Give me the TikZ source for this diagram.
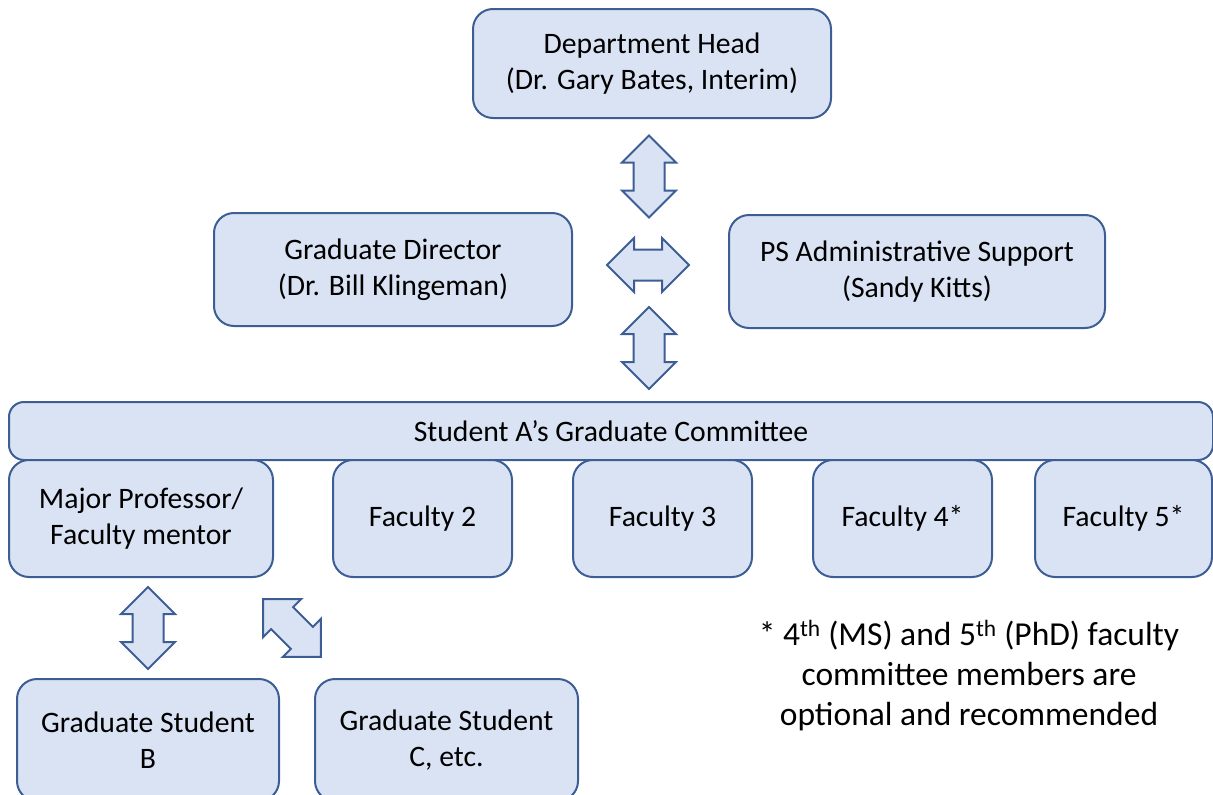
\documentclass[tikz,border=0pt]{standalone}
\usepackage{fontspec}
\setmainfont{Carlito}
\usetikzlibrary{shapes.arrows}
\definecolor{boxfill}{HTML}{DAE3F3}
\definecolor{boxline}{HTML}{3D5E95}

\tikzset{
  box/.style={draw=boxline, fill=boxfill, line width=2pt, rounded corners=20pt,
    align=center, inner sep=0pt, font=\fontsize{29.7}{36}\selectfont},
  fatarrow/.style={shape=double arrow, draw=boxline, fill=boxfill, line width=2pt,
    inner xsep=0pt, inner ysep=14.5pt, double arrow head extend=11.5pt, minimum height=82pt}
}

\begin{document}
\begin{tikzpicture}[x=1pt,y=-1pt]
\useasboundingbox (0,0) rectangle (1213,795);

% top of the chart
\node[box, minimum width=358, minimum height=109] (head) at (652,63.5)
  {Department Head\\(Dr. Gary Bates, Interim)};
\node[box, minimum width=358, minimum height=113] (director) at (393,269.5)
  {Graduate Director\\(Dr. Bill Klingeman)};
\node[box, minimum width=376, minimum height=113] (support) at (917,271.5)
  {PS Administrative Support\\(Sandy Kitts)};

\node[fatarrow, rotate=90] (arrhead) at (649,176.5) {};
\node[fatarrow] (arrside) at (648,265) {};
\node[fatarrow, rotate=90] (arrcomm) at (649,348) {};

% committee
\node[box, rounded corners=15pt, minimum width=1204, minimum height=58] (committee) at (611,431)
  {Student A’s Graduate Committee};
\node[box, minimum width=264, minimum height=117] (mentor) at (141,518.5)
  {Major Professor/\\Faculty mentor};
\node[box, minimum width=179, minimum height=117] (fac2) at (422.5,518.5) {Faculty 2};
\node[box, minimum width=179, minimum height=117] (fac3) at (662.5,518.5) {Faculty 3};
\node[box, minimum width=179, minimum height=117] (fac4) at (902.5,518.5) {Faculty 4*};
\node[box, minimum width=177, minimum height=117] (fac5) at (1123.5,518.5) {Faculty 5*};

% students
\node[fatarrow, rotate=90] (arrB) at (148,628) {};
\node[fatarrow, rotate=-45] (arrC) at (292,628) {};
\node[box, minimum width=262, minimum height=122] (studentB) at (148,740)
  {Graduate Student\\B};
\node[box, minimum width=263, minimum height=122] (studentC) at (446.5,740)
  {Graduate Student\\C, etc.};

\node[align=center, font=\fontsize{33.5}{40}\selectfont] (note) at (969,676)
  {* 4\textsuperscript{th} (MS) and 5\textsuperscript{th} (PhD) faculty\\committee members are\\optional and recommended};
\end{tikzpicture}
\end{document}
